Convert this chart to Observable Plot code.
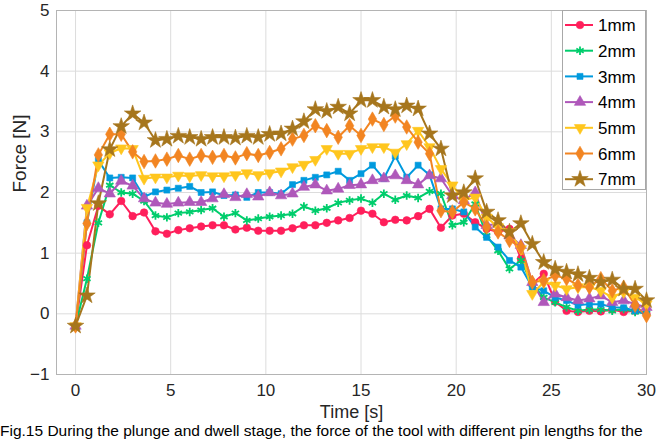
<!DOCTYPE html>
<html>
<head>
<meta charset="utf-8">
<script src="https://cdn.jsdelivr.net/npm/d3@7"></script>
<script src="https://cdn.jsdelivr.net/npm/@observablehq/plot@0.6"></script>
<style>
  html, body { margin: 0; padding: 0; background: #fff; overflow: hidden; }
  #wrap { position: relative; width: 657px; font-family: "Liberation Sans", Arial, sans-serif; }
  #caption { font-size: 15.5px; line-height: 16px; white-space: nowrap; color: #000; margin-top: 0px; }
  #legend { position: absolute; left: 562px; top: 10px; }
</style>
</head>
<body>
<div id="wrap"></div>
<script>
const times = [0,0.6,1.2,1.8,2.4,3.0,3.6,4.2,4.8,5.4,6.0,6.6,7.2,7.8,8.4,9.0,9.6,10.2,10.8,11.4,12.0,12.6,13.2,13.8,14.4,15.0,15.6,16.2,16.8,17.4,18.0,18.6,19.2,19.8,20.4,21.0,21.6,22.2,22.8,23.4,24.0,24.6,25.2,25.8,26.4,27.0,27.6,28.2,28.8,29.4,30.0];
const seriesNames = ["1mm","2mm","3mm","4mm","5mm","6mm","7mm"];
const colors = ["#FF1F5B","#00CD6C","#009ADE","#AF58BA","#FFC61E","#F28522","#A6761D"];
const xTicks = [0,5,10,15,20,25,30];
const yTicks = [-1,0,1,2,3,4,5];

const f1mm = [-0.2,1.13,1.78,1.64,1.86,1.61,1.67,1.36,1.32,1.38,1.41,1.44,1.46,1.46,1.39,1.42,1.37,1.37,1.37,1.41,1.46,1.46,1.5,1.54,1.58,1.7,1.65,1.51,1.55,1.54,1.61,1.73,1.42,1.62,1.65,1.51,1.4,1.35,1.4,0.91,0.49,0.66,0.2,0.05,0.03,0.05,0.04,0.07,0.03,0.05,0.0];
const f2mm = [-0.2,0.58,1.5,2.12,2.0,1.98,1.86,1.62,1.59,1.66,1.68,1.71,1.74,1.6,1.66,1.54,1.57,1.6,1.62,1.65,1.77,1.7,1.74,1.83,1.87,1.9,1.83,1.98,1.88,1.95,1.91,2.02,1.98,1.46,1.51,1.81,1.29,1.04,0.74,0.88,0.49,0.27,0.19,0.11,0.05,0.07,0.07,0.05,0.08,0.03,0.01];
const f3mm = [-0.2,1.5,2.53,2.24,2.25,2.24,1.93,2.01,2.04,2.07,2.1,2.0,2.01,1.95,1.96,1.92,2.0,2.0,1.98,2.13,2.2,2.25,2.29,2.35,2.2,2.31,2.45,2.23,2.6,2.25,2.45,2.29,1.73,1.73,1.68,1.43,1.26,1.1,0.88,0.77,0.44,0.38,0.27,0.22,0.14,0.16,0.16,0.11,0.1,0.05,0.0];
const f4mm = [-0.2,1.78,2.07,1.98,2.19,2.11,1.9,1.83,1.81,1.83,1.84,1.84,1.9,1.97,1.92,1.97,1.93,2.0,1.95,1.98,2.09,2.13,2.03,2.06,2.12,2.13,2.2,2.23,2.28,2.2,2.13,2.28,2.23,1.95,1.87,2.0,1.46,1.48,1.29,1.13,0.52,0.19,0.33,0.27,0.22,0.25,0.3,0.19,0.22,0.16,0.11];
const f5mm = [-0.2,1.75,2.45,2.65,2.73,2.72,2.23,2.25,2.25,2.28,2.27,2.29,2.27,2.27,2.29,2.32,2.29,2.32,2.35,2.42,2.46,2.54,2.72,2.64,2.64,2.72,2.75,2.75,2.66,2.8,3.02,2.75,2.39,2.12,1.87,1.92,1.59,1.43,1.35,1.07,0.33,0.52,0.47,0.41,0.44,0.44,0.38,0.27,0.36,0.27,0.16];
const f6mm = [-0.2,1.49,2.62,2.96,2.96,2.67,2.51,2.52,2.55,2.61,2.55,2.61,2.58,2.61,2.57,2.64,2.61,2.66,2.72,2.88,2.94,3.1,3.02,2.91,3.1,2.94,3.21,3.12,3.26,3.08,2.83,2.64,1.7,1.68,1.84,1.73,1.43,1.35,1.21,1.1,0.52,0.55,0.63,0.58,0.47,0.44,0.58,0.38,0.44,0.14,-0.03];
const f7mm = [-0.2,0.3,1.82,2.71,3.09,3.3,3.15,2.86,2.88,2.93,2.91,2.88,2.91,2.91,2.9,2.93,2.91,2.96,2.97,3.05,3.17,3.37,3.34,3.41,3.3,3.52,3.52,3.41,3.37,3.43,3.38,2.97,2.72,1.95,2.0,2.23,1.68,1.54,1.35,1.49,1.15,0.85,0.74,0.69,0.65,0.59,0.52,0.56,0.41,0.41,0.22];

const allSeries = [f1mm,f2mm,f3mm,f4mm,f5mm,f6mm,f7mm];

// custom downward triangle
const sqrt3 = Math.sqrt(3);
const triangleDown = {
  draw(context, size) {
    const y = -Math.sqrt(size / (sqrt3 * 3));
    context.moveTo(0, -y * 2);
    context.lineTo(-sqrt3 * y, y);
    context.lineTo(sqrt3 * y, y);
    context.closePath();
  }
};
const symbols = [d3.symbolCircle, d3.symbolAsterisk, d3.symbolSquare, d3.symbolTriangle, triangleDown, d3.symbolDiamond, d3.symbolStar];
const radii = [3.8, 4.0, 3.4, 4.2, 4.2, 4.4, 5.2];
const strokeOnly = [false, true, false, false, false, false, false];

const data = [];
seriesNames.forEach((name, k) => {
  allSeries[k].forEach((v, i) => data.push({series: name, t: times[i], force: v}));
});

const font = "Liberation Sans, Arial, sans-serif";

const dotMarks = seriesNames.map((name, k) => Plot.dot(data.filter(d => d.series === name), {
  x: "t", y: "force",
  symbol: symbols[k],
  r: radii[k],
  fill: strokeOnly[k] ? "none" : colors[k],
  stroke: colors[k],
  strokeWidth: strokeOnly[k] ? 1.8 : 0.6
}));

const chart = Plot.plot({
  width: 657,
  height: 423,
  marginLeft: 56,
  marginRight: 11,
  marginTop: 10,
  marginBottom: 49,
  style: {fontFamily: font, background: "#fff", color: "#262626"},
  x: {domain: [-1, 30]},
  y: {domain: [-1, 5]},
  color: {domain: seriesNames, range: colors},
  marks: [
    Plot.gridX(xTicks, {stroke: "#dcdcdc", strokeOpacity: 1, strokeWidth: 1}),
    Plot.gridY(yTicks, {stroke: "#dcdcdc", strokeOpacity: 1, strokeWidth: 1}),
    Plot.frame({stroke: "#b4b4b4", strokeWidth: 1}),
    Plot.axisX(xTicks, {tickSize: 0, tickPadding: 9, fontSize: 17, label: null, fill: "#262626", tickFormat: d3.format("d")}),
    Plot.axisY(yTicks, {tickSize: 0, tickPadding: 7, fontSize: 17, label: null, fill: "#262626", tickFormat: d3.format("d")}),
    Plot.text(["Time [s]"], {text: d => d, frameAnchor: "bottom", dy: 31, lineAnchor: "top", fontSize: 18, fill: "#262626"}),
    Plot.text(["Force [N]"], {text: d => d, frameAnchor: "left", dx: -37, rotate: -90, fontSize: 19, fill: "#262626"}),
    Plot.line(data, {x: "t", y: "force", z: "series", stroke: "series", strokeWidth: 2}),
    ...dotMarks
  ]
});

const wrap = document.getElementById("wrap");
wrap.appendChild(chart);

// legend
const lw = 84, lh = 180;
const legend = d3.select(wrap).append("svg")
  .attr("id", "legend")
  .attr("width", lw).attr("height", lh)
  .style("font-family", font);
legend.append("rect").attr("x", 0.5).attr("y", 0.5).attr("width", lw - 1).attr("height", lh - 1)
  .attr("fill", "#fff").attr("stroke", "#a8a8a8");
seriesNames.forEach((name, k) => {
  const cy = 15 + k * 25.7;
  const g = legend.append("g");
  g.append("line").attr("x1", 3).attr("x2", 31).attr("y1", cy).attr("y2", cy)
    .attr("stroke", colors[k]).attr("stroke-width", 2);
  g.append("path")
    .attr("d", d3.symbol(symbols[k], Math.PI * radii[k] * radii[k])())
    .attr("transform", `translate(18,${cy})`)
    .attr("fill", strokeOnly[k] ? "none" : colors[k])
    .attr("stroke", colors[k])
    .attr("stroke-width", strokeOnly[k] ? 1.8 : 0.6);
  g.append("text").attr("x", 36).attr("y", cy).attr("dy", "0.36em")
    .attr("font-size", 17).attr("fill", "#000").text(name);
});

const cap = document.createElement("div");
cap.id = "caption";
cap.textContent = "Fig.15 During the plunge and dwell stage, the force of the tool with different pin lengths for the";
wrap.appendChild(cap);
</script>
</body>
</html>
